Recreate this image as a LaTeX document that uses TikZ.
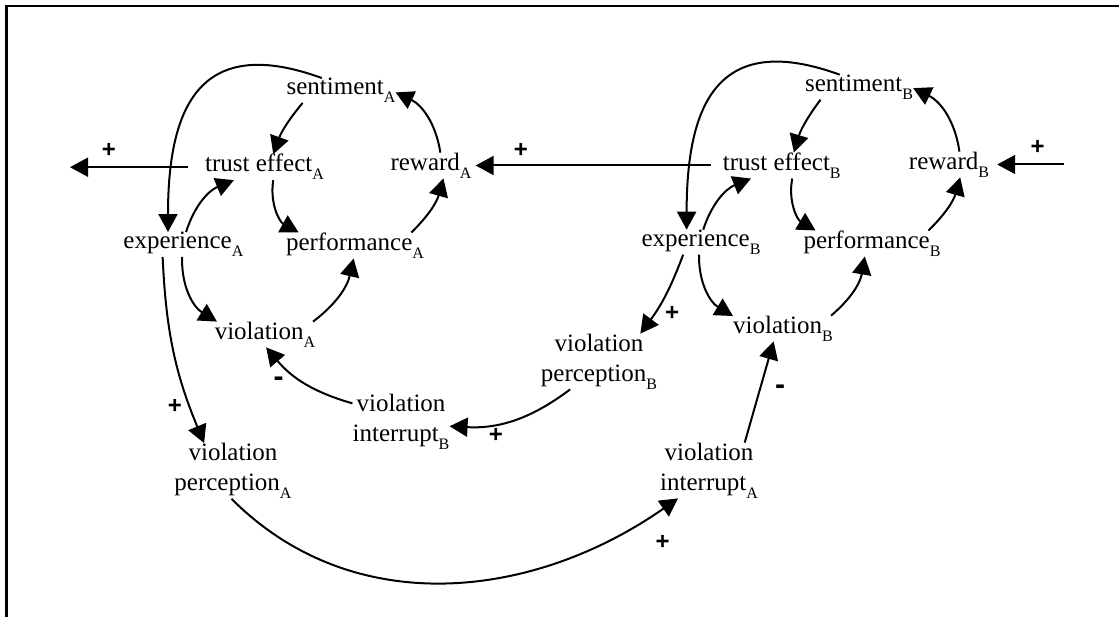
\documentclass[tikz,border=0pt]{standalone}
\usepackage{fontspec}
\setmainfont{Liberation Serif}
\setsansfont{Liberation Sans}
\usepackage{tikz}
\usetikzlibrary{arrows.meta}

\newcommand{\lowsub}[1]{\raisebox{-8pt}{\fontsize{16}{16}\selectfont #1}}

\begin{document}
\begin{tikzpicture}[
			x=1pt, y=1pt,
			var/.style={inner sep=0pt, font=\fontsize{25}{30}\selectfont},
			var2/.style={var, align=center},
			link/.style={line width=2pt, -{Triangle[length=18pt,width=19pt]}},
			sign/.style={inner sep=0pt, font=\sffamily\bfseries\fontsize{24}{24}\selectfont},
			minus/.style={inner sep=0pt, font=\sffamily\bfseries\fontsize{30}{30}\selectfont}
			]
			\useasboundingbox (0,0) rectangle (1119,-617);
			\draw[line width=2.4pt] (1119,-6.3) -- (6.5,-6.3) -- (6.5,-617);
			
			% loop A
			\node[var] (sentA) at (341,-90.5) {sentiment\lowsub{A}};
			\node[var] (trustA) at (264.5,-167.2) {trust effect\lowsub{A}};
			\node[var] (rewA) at (431,-165.5) {reward\lowsub{A}};
			\node[var] (expA) at (183.4,-244.5) {experience\lowsub{A}};
			\node[var] (perfA) at (355,-245.5) {performance\lowsub{A}};
			\node[var] (violA) at (265,-334.5) {violation\lowsub{A}};
			\node[var2] (vpA) at (233,-471) {violation\\perception\lowsub{A}};
			\node[var2] (viB) at (401,-422) {violation\\interrupt\lowsub{B}};
			
			% loop B
			\node[var] (sentB) at (859,-87.2) {sentiment\lowsub{B}};
			\node[var] (trustB) at (781.7,-165.5) {trust effect\lowsub{B}};
			\node[var] (rewB) at (949,-164.5) {reward\lowsub{B}};
			\node[var] (expB) at (701,-242.2) {experience\lowsub{B}};
			\node[var] (perfB) at (872,-243.5) {performance\lowsub{B}};
			\node[var] (violB) at (783,-328.5) {violation\lowsub{B}};
			\node[var2] (vpB) at (599,-361.5) {violation\\perception\lowsub{B}};
			\node[var2] (viA) at (709,-470.5) {violation\\interrupt\lowsub{A}};
			
			\coordinate (outA) at (70,-167.2);
			\coordinate (inB) at (1064,-164.5);
			
			\draw[link] (sentA.-162) to[bend right=10] (trustA.56);
			\draw[link] (trustA.-56) to[bend right=35] (perfA.167);
			\draw[link] (perfA.13) to[bend right=15] (rewA.-46);
			\draw[link] (rewA.54) to[bend right=28] (sentA.-2);
			\draw[link] (expA.78) to[bend left=25] (trustA.-157);
			\draw[link] (sentA.147) to[out=160,in=90,looseness=1.5] (expA.141);
			\draw[link] (expA.-96) to[bend right=30] (violA.165);
			\draw[link] (violA.15) to[bend right=20] (perfA.-96);
			\draw[link] (expA.-149) to[bend right=10] (vpA.136);
			\draw[link] (viB.159) to[bend left=17] (violA.-85);
			
			\draw[link] (sentB.-162) to[bend right=10] (trustB.47);
			\draw[link] (trustB.-51) to[bend right=35] (perfB.167);
			\draw[link] (perfB.13) to[bend right=15] (rewB.-49);
			\draw[link] (rewB.51) to[bend right=28] (sentB.-1);
			\draw[link] (expB.80) to[bend left=25] (trustB.-157);
			\draw[link] (sentB.147) to[out=160,in=90,looseness=1.5] (expB.139);
			\draw[link] (expB.-99) to[bend right=30] (violB.166);
			\draw[link] (violB.15) to[bend right=20] (perfB.-119);
			\draw[link] (expB.-145) to[bend left=8] (vpB.34);
			\draw[link] (vpB.-136) to[bend left=20] (viB.-5);
			
			\draw[link, shorten <=17pt] (trustA.west) -- (outA);
			\draw[link, shorten <=12pt, shorten >=4pt] (trustB.west) -- (rewA.east);
			\draw[link, shorten >=8pt] (inB) -- (rewB.east);
			\draw[link] (viA.38) -- (violB.-126);
			\draw[link] (vpA.-93) to[out=-45,in=-145] (viA.-138);
			
			\node[sign] (s1) at (109,-150) {+};
			\node[sign] (s2) at (521,-150) {+};
			\node[sign] (s3) at (1037.5,-147) {+};
			\node[sign] (s4) at (175,-406) {+};
			\node[minus] (s5) at (278.6,-381.5) {-};
			\node[sign] (s6) at (496,-435) {+};
			\node[sign] (s7) at (672,-313) {+};
			\node[minus] (s8) at (780,-390) {-};
			\node[sign] (s9) at (662.5,-542.7) {+};
		\end{tikzpicture}
\end{document}
